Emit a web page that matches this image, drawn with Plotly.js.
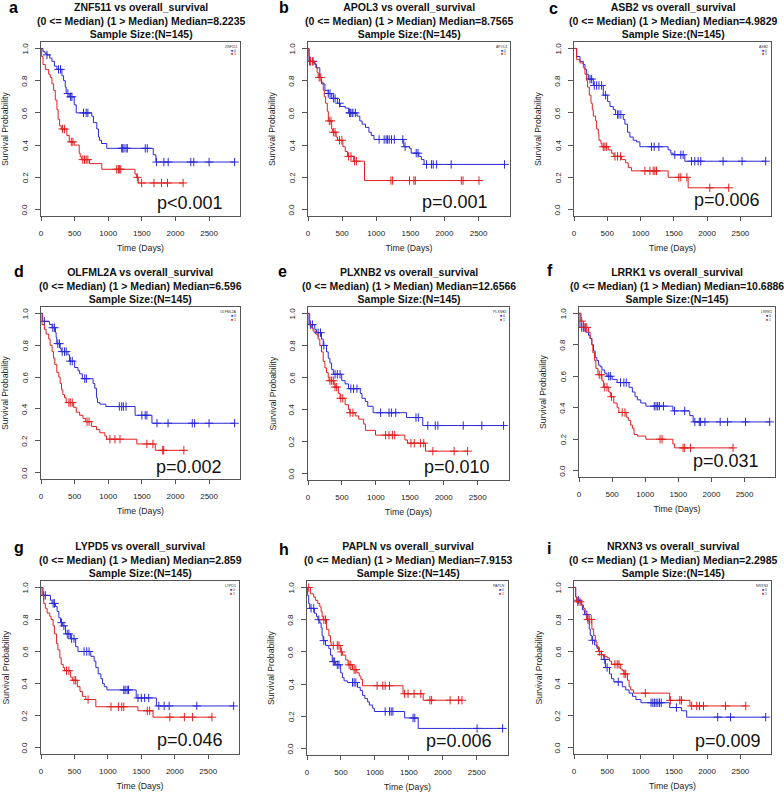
<!DOCTYPE html>
<html>
<head>
<meta charset="utf-8">
<script src="https://cdn.plot.ly/plotly-3.0.1.min.js"></script>
<style>body{margin:0;background:#fff}#myDiv{width:784px;height:792px}</style>
</head>
<body>
<div id="myDiv"></div>
<script>
// ---------------- panel labels ----------------
var letters = ['a','b','c','d','e','f','g','h','i'];
var genes = ['ZNF511','APOL3','ASB2','OLFML2A','PLXNB2','LRRK1','LYPD5','PAPLN','NRXN3'];
var medians = ['8.2235','8.7565','4.9829','6.596','12.6566','10.6886','2.859','7.9153','2.2985'];
var pvals = ['p&lt;0.001','p=0.001','p=0.006','p=0.002','p=0.010','p=0.031','p=0.046','p=0.006','p=0.009'];
var xTicks = [0,500,1000,1500,2000,2500];
var yTicks = [0,0.2,0.4,0.6,0.8,1.0];

// ---------------- KM data: group 0 (blue) / group 1 (red) ----------------
// _t = event times (days), _s = survival after step, _c = censor times
var a0_t = [0,30,60,89,130,163,200,237,311,336,361,375,420,494,524,756,780,830,855,869,900,978,1670,1709];
var a0_s = [1,0.98,0.97,0.96,0.94,0.92,0.89,0.87,0.83,0.80,0.76,0.72,0.70,0.65,0.60,0.58,0.54,0.50,0.45,0.43,0.41,0.38,0.34,0.295];
var a0_c = [89,260,290,400,440,460,632,672,697,1200,1215,1235,1265,1284,1551,1581,1719,1828,1892,2228,2272,2500,2880];
var a1_t = [0,10,30,64,114,138,163,188,212,237,255,277,301,385,420,494,568,583,600,721,904,1398,1423,1447];
var a1_s = [1,0.95,0.90,0.87,0.84,0.82,0.78,0.74,0.68,0.62,0.56,0.52,0.50,0.46,0.42,0.40,0.35,0.33,0.31,0.285,0.25,0.22,0.20,0.165];
var a1_c = [321,351,450,474,622,647,672,697,1126,1151,1166,1186,1433,1497,1680,1793,1882,2114];

var b0_t = [0,15,99,124,173,198,248,297,347,431,471,546,595,719,759,793,843,893,927,967,1403,1488,1512,1622,1661,1701];
var b0_s = [1,0.92,0.90,0.88,0.82,0.78,0.74,0.72,0.69,0.66,0.64,0.63,0.60,0.58,0.55,0.53,0.51,0.48,0.46,0.435,0.39,0.38,0.35,0.33,0.31,0.28];
var b0_c = [24,74,297,323,372,397,462,610,620,645,659,694,1042,1116,1145,1166,1190,1224,1265,1389,1423,1586,1612,1736,1810,1835,1885,2098,2880];
var b1_t = [0,15,30,74,114,134,150,198,223,238,258,283,298,347,362,412,432,511,546,580,670,828];
var b1_s = [1,0.95,0.92,0.91,0.88,0.85,0.82,0.79,0.74,0.70,0.66,0.61,0.55,0.50,0.48,0.45,0.43,0.39,0.36,0.33,0.30,0.18];
var b1_c = [35,64,164,188,312,337,372,397,461,496,595,630,680,709,1215,1240,1488,1552,1572,2247,2272,2505];

var c0_t = [0,40,90,140,165,190,215,290,440,505,540,590,625,740,765,805,840,890,940,990,1415,1455,1490,1665];
var c0_s = [1,0.95,0.92,0.90,0.87,0.84,0.81,0.77,0.71,0.67,0.64,0.62,0.59,0.56,0.53,0.48,0.45,0.43,0.42,0.39,0.37,0.35,0.34,0.30];
var c0_c = [240,265,305,340,375,415,475,655,675,705,1165,1205,1275,1515,1605,1640,1765,1815,1865,1905,2240,2525,2880];
var c1_t = [0,40,90,140,165,190,205,230,255,275,290,325,340,365,375,405,420,515,565,600,715,775,815,865,1415,1715];
var c1_s = [1,0.93,0.91,0.88,0.84,0.80,0.76,0.71,0.66,0.62,0.58,0.55,0.50,0.47,0.43,0.41,0.39,0.37,0.35,0.33,0.31,0.29,0.26,0.24,0.20,0.135];
var c1_c = [440,465,490,615,655,700,1065,1140,1190,1215,1240,1575,1605,1695,2040,2325];

var d0_t = [0,25,125,165,215,225,235,285,300,400,425,500,550,575,615,775,800,825,840,875,965,1400,1650];
var d0_s = [1,0.95,0.93,0.91,0.88,0.85,0.81,0.78,0.76,0.74,0.70,0.66,0.64,0.62,0.59,0.56,0.53,0.47,0.44,0.43,0.415,0.36,0.31];
var d0_c = [50,175,200,250,275,315,350,375,435,465,650,675,1165,1200,1225,1265,1500,1550,1575,1725,1890,2250,2285,2500,2880];
var d1_t = [0,15,50,75,115,135,165,185,205,235,265,285,305,325,350,375,485,525,575,625,665,750,825,875,950,975,1425,1700];
var d1_s = [1,0.93,0.90,0.87,0.84,0.80,0.76,0.72,0.68,0.63,0.60,0.56,0.52,0.49,0.47,0.44,0.41,0.38,0.36,0.34,0.32,0.29,0.27,0.25,0.23,0.21,0.18,0.14];
var d1_c = [415,435,465,685,715,1025,1100,1175,1575,1665,1810,1825,2125];

var e0_t = [0,15,99,124,199,224,273,298,323,348,373,497,547,596,770,795,845,880,959,1451,1690];
var e0_s = [1,0.93,0.90,0.88,0.84,0.80,0.76,0.72,0.69,0.65,0.62,0.58,0.56,0.53,0.50,0.47,0.45,0.42,0.38,0.35,0.30];
var e0_c = [35,65,149,184,234,398,432,472,631,671,721,1069,1193,1228,1292,1590,1625,1764,1874,1913,2286,2560,2880];
var e1_t = [0,25,50,75,114,149,174,199,224,249,273,298,310,383,398,447,472,547,596,615,696,746,820,845,994,1426,1466,1730];
var e1_s = [1,0.93,0.91,0.89,0.87,0.84,0.80,0.76,0.70,0.66,0.63,0.60,0.58,0.56,0.54,0.50,0.47,0.43,0.40,0.38,0.36,0.34,0.31,0.27,0.24,0.21,0.19,0.14];
var e1_c = [323,348,373,398,422,482,512,621,661,1143,1193,1243,1277,1516,1566,1655,1705,1839,2152,2351];

var f0_t = [0,15,102,143,168,194,219,245,270,296,321,347,388,423,500,576,755,806,847,882,933,1010,1418,1673,1724];
var f0_s = [1,0.91,0.88,0.86,0.84,0.80,0.76,0.72,0.70,0.67,0.66,0.64,0.62,0.60,0.58,0.56,0.53,0.50,0.47,0.45,0.43,0.41,0.38,0.35,0.31];
var f0_c = [41,66,92,449,474,627,678,714,1137,1163,1188,1214,1275,1443,1596,1749,1816,1836,1902,2132,2244,2514,2880];
var f1_t = [0,31,66,143,168,194,209,235,255,286,347,372,449,474,525,576,602,714,745,780,806,831,882,1010,1418,1443];
var f1_s = [1,0.95,0.91,0.88,0.84,0.80,0.75,0.70,0.65,0.61,0.57,0.53,0.50,0.47,0.43,0.40,0.37,0.34,0.32,0.29,0.27,0.23,0.22,0.20,0.17,0.145];
var f1_c = [41,70,92,117,306,337,388,423,490,653,694,1224,1255,1571,1596,1683,2326];

var g0_t = [0,30,141,166,216,241,267,292,320,367,443,518,553,744,795,820,855,895,920,946,986,1423,1725];
var g0_s = [1,0.95,0.92,0.90,0.88,0.85,0.81,0.78,0.76,0.71,0.68,0.63,0.60,0.57,0.54,0.50,0.46,0.43,0.40,0.38,0.36,0.31,0.26];
var g0_c = [40,65,181,201,307,342,392,417,458,493,644,684,719,1237,1258,1288,1308,1449,1499,1549,1610,1761,1841,1916,2329,2880];
var g1_t = [0,15,40,65,91,131,151,181,201,231,252,282,302,332,352,443,468,543,583,619,669,820,1449,1675];
var g1_s = [1,0.95,0.90,0.87,0.84,0.82,0.80,0.76,0.71,0.65,0.61,0.56,0.52,0.50,0.48,0.44,0.42,0.38,0.35,0.32,0.30,0.255,0.23,0.19];
var g1_c = [382,417,493,518,704,1046,1157,1207,1237,1589,1625,1926,2143,2264,2555];

var h0_t = [0,10,25,40,109,139,159,188,208,223,238,273,322,347,372,422,496,521,546,595,744,784,818,853,893,918,967,992,1438,1637];
var h0_s = [1,0.95,0.90,0.87,0.84,0.82,0.80,0.78,0.75,0.70,0.67,0.64,0.62,0.58,0.54,0.52,0.47,0.44,0.42,0.41,0.38,0.36,0.33,0.31,0.29,0.27,0.25,0.23,0.19,0.125];
var h0_c = [60,99,174,248,387,407,446,471,670,694,719,1151,1215,1240,1265,1562,1587,2505,2880];
var h1_t = [0,50,99,124,159,188,208,223,238,288,322,347,357,496,521,570,605,670,734,769,794,818,1414,1711];
var h1_s = [1,0.96,0.94,0.92,0.90,0.88,0.85,0.82,0.80,0.74,0.70,0.66,0.64,0.60,0.58,0.55,0.52,0.49,0.47,0.45,0.43,0.39,0.34,0.30];
var h1_c = [25,248,273,387,446,471,506,620,645,694,719,1032,1116,1151,1215,1438,1488,1577,1676,1810,1835,2108,2232,2282];

var i0_t = [0,25,41,107,127,157,208,229,244,269,310,345,371,411,447,472,533,564,599,726,777,828,879,930,1006,1438,1615,1692];
var i0_s = [1,0.94,0.92,0.89,0.86,0.83,0.79,0.74,0.70,0.67,0.64,0.62,0.60,0.58,0.55,0.50,0.46,0.43,0.41,0.38,0.36,0.34,0.32,0.30,0.28,0.25,0.23,0.19];
var i0_c = [66,193,279,462,498,665,1158,1184,1209,1234,1260,1285,1311,1539,2159,2352,2880];
var i1_t = [0,25,41,117,142,168,193,269,295,320,345,371,411,447,498,533,564,701,726,752,803,828,853,894,1438,1742];
var i1_s = [1,0.94,0.91,0.89,0.87,0.84,0.80,0.74,0.70,0.66,0.63,0.60,0.58,0.57,0.56,0.54,0.52,0.49,0.48,0.46,0.42,0.38,0.36,0.34,0.295,0.26];
var i1_c = [56,91,208,229,259,381,411,615,650,676,752,777,1072,1448,1590,1615,1768,1844,1885,1946,2276,2581];

var group0 = [[a0_t,a0_s,a0_c],[b0_t,b0_s,b0_c],[c0_t,c0_s,c0_c],[d0_t,d0_s,d0_c],[e0_t,e0_s,e0_c],[f0_t,f0_s,f0_c],[g0_t,g0_s,g0_c],[h0_t,h0_s,h0_c],[i0_t,i0_s,i0_c]];
var group1 = [[a1_t,a1_s,a1_c],[b1_t,b1_s,b1_c],[c1_t,c1_s,c1_c],[d1_t,d1_s,d1_c],[e1_t,e1_s,e1_c],[f1_t,f1_s,f1_c],[g1_t,g1_s,g1_c],[h1_t,h1_s,h1_c],[i1_t,i1_s,i1_c]];

// ---------------- layout geometry (pixels) ----------------
var W = 784, H = 792;
var FONT = 'Liberation Sans, Arial, sans-serif';
var BLUE = '#2a2ad8', RED = '#e02020', AXC = '#555';
// plot box: left, right, top, bottom
var boxes = [[41,240,42,216],[308,510,42,216],[574,771,42,216],
             [41,240,307,479],[308,509,307,480],[579,775,307,477],
             [41,239,581,754],[307,508,581,755],[574,771,581,754]];
var pOffsets = [[15,13],[20,14],[9,16],[16,12],[17,13],[14,16],[14,14],[14,14],[8,13]];
var letterPos = [[7,12],[277,12],[547,13],[12,276],[276,276],[545,275],[12,552],[277,554],[545,553]];

function stepAt(t, ts, ss) {
  var y = ss[0];
  for (var j = 0; j < ts.length; j++) { if (ts[j] <= t) y = ss[j]; }
  return y;
}

function kmTraces(g, color, n) {
  var ts = g[0], ss = g[1], cens = g[2];
  var end = Math.max(ts[ts.length - 1], cens[cens.length - 1]);
  var ax = n === 1 ? '' : String(n);
  var line = {
    x: ts.concat([end]), y: ss.concat([ss[ss.length - 1]]),
    type: 'scatter', mode: 'lines', xaxis: 'x' + ax, yaxis: 'y' + ax,
    line: {shape: 'hv', width: 1, color: color}, hoverinfo: 'skip'
  };
  var marks = {
    x: cens, y: cens.map(function (t) { return stepAt(t, ts, ss); }),
    type: 'scatter', mode: 'markers', xaxis: 'x' + ax, yaxis: 'y' + ax,
    marker: {symbol: 'cross-thin', size: 6, color: color, line: {color: color, width: 1}},
    hoverinfo: 'skip'
  };
  return [line, marks];
}

var data = [];
var layout = {
  width: W, height: H, showlegend: false,
  margin: {l: 0, r: 0, t: 0, b: 0},
  paper_bgcolor: '#fff', plot_bgcolor: '#fff',
  font: {family: FONT, color: '#222'},
  annotations: []
};

for (var k = 0; k < 9; k++) {
  var n = k + 1, ax = n === 1 ? '' : String(n);
  var b = boxes[k];
  data = data.concat(kmTraces(group0[k], BLUE, n), kmTraces(group1[k], RED, n));

  layout['xaxis' + ax] = {
    domain: [b[0] / W, b[1] / W], anchor: 'y' + ax, range: [0, 2960],
    tickvals: xTicks, ticks: 'outside', ticklen: 4, tickcolor: AXC,
    ticklabelstandoff: 5,
    showline: true, mirror: true, linecolor: AXC, linewidth: 1,
    showgrid: false, zeroline: false, fixedrange: true,
    tickfont: {family: FONT, size: 8, color: '#222'},
    title: {text: 'Time (Days)', font: {family: FONT, size: 8.7, color: '#222'}, standoff: 8}
  };
  // y tick labels are drawn rotated (R style) as annotations below
  layout['yaxis' + ax] = {
    domain: [1 - b[3] / H, 1 - b[2] / H], anchor: 'x' + ax, range: [-0.04, 1.04],
    tickvals: yTicks, showticklabels: false,
    ticks: 'outside', ticklen: 5, tickcolor: AXC,
    showline: true, mirror: true, linecolor: AXC, linewidth: 1,
    showgrid: false, zeroline: false, fixedrange: true
  };

  var xd = 'x' + ax + ' domain', yd = 'y' + ax + ' domain';
  yTicks.forEach(function (v) {
    layout.annotations.push({
      xref: xd, yref: 'y' + ax, x: 0, y: v, xanchor: 'center', yanchor: 'middle',
      xshift: -16, textangle: -90, showarrow: false, text: v.toFixed(1),
      font: {family: FONT, size: 8, color: '#222'}
    });
  });
  layout.annotations.push({
    xref: xd, yref: yd, x: 0, y: 0.5, xanchor: 'center', yanchor: 'middle',
    xshift: -36, textangle: -90, showarrow: false, text: 'Survival Probability',
    font: {family: FONT, size: 8.7, color: '#222'}
  });
  // three-line title
  layout.annotations.push({
    xref: xd, yref: yd, x: 0.5, y: 1, xanchor: 'center', yanchor: 'bottom', yshift: 0,
    showarrow: false, align: 'center',
    text: '<b>' + genes[k] + ' vs overall_survival<br>(0 &lt;= Median) (1 &gt; Median) Median=' +
          medians[k] + '<br>Sample Size:(N=145)</b>',
    font: {family: FONT, size: 10.5, color: '#111'}
  });
  // p value
  layout.annotations.push({
    xref: xd, yref: yd, x: 1, y: 0, xanchor: 'right', yanchor: 'middle',
    xshift: -pOffsets[k][0], yshift: pOffsets[k][1], showarrow: false,
    text: pvals[k], font: {family: FONT, size: 18, color: '#111'}
  });
  // tiny legend
  layout.annotations.push({
    xref: xd, yref: yd, x: 1, y: 1, xanchor: 'right', yanchor: 'middle', xshift: -1, yshift: -5,
    showarrow: false, text: genes[k], font: {family: FONT, size: 3.5, color: '#333'}
  });
  layout.annotations.push({
    xref: xd, yref: yd, x: 1, y: 1, xanchor: 'left', yanchor: 'middle', xshift: -11, yshift: -9,
    showarrow: false, text: '<span style="color:' + BLUE + '">&#9632;</span> 0',
    font: {family: FONT, size: 3.5, color: '#333'}
  });
  layout.annotations.push({
    xref: xd, yref: yd, x: 1, y: 1, xanchor: 'left', yanchor: 'middle', xshift: -11, yshift: -12.5,
    showarrow: false, text: '<span style="color:' + RED + '">&#9632;</span> 1',
    font: {family: FONT, size: 3.5, color: '#333'}
  });
  // panel letter
  layout.annotations.push({
    xref: 'paper', yref: 'paper', x: letterPos[k][0] / W, y: 1 - (letterPos[k][1] + 6) / H,
    xanchor: 'left', yanchor: 'bottom', showarrow: false,
    text: '<b>' + letters[k] + '</b>', font: {family: FONT, size: 16, color: '#000'}
  });
}

Plotly.newPlot('myDiv', data, layout, {staticPlot: true});
</script>
</body>
</html>
